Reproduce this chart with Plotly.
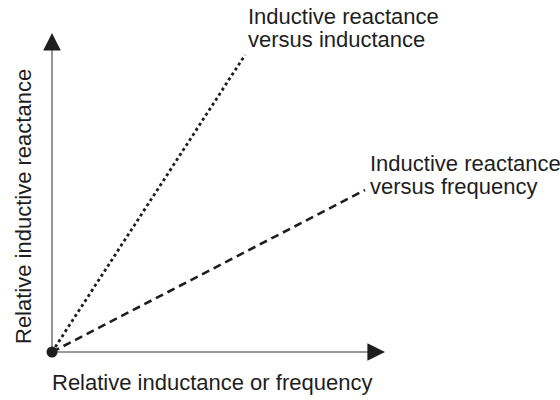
import plotly.graph_objects as go

# Relative units: origin at (0, 0)
axis_x_end = 3.33
axis_y_end = 3.19

# Inductive reactance versus inductance (dotted)
ind_x = [0.0, 1.93]
ind_y = [0.0, 2.97]

# Inductive reactance versus frequency (dashed)
freq_x = [0.0, 3.13]
freq_y = [0.0, 1.62]

label_ind = ["Inductive reactance", "versus inductance"]
label_freq = ["Inductive reactance", "versus frequency"]
x_title = "Relative inductance or frequency"
y_title = "Relative inductive reactance"

W, H = 560, 400
FONT = "Liberation Sans, Arial, sans-serif"
INK = "#1e1e1e"

fig = go.Figure()

# Axis lines
fig.add_trace(go.Scatter(x=[0, axis_x_end - 0.05], y=[0, 0], mode="lines",
                         line=dict(color="#7a7a7a", width=1.6), hoverinfo="skip"))
fig.add_trace(go.Scatter(x=[0, 0], y=[0, axis_y_end - 0.05], mode="lines",
                         line=dict(color="#7a7a7a", width=1.6), hoverinfo="skip"))

# Reactance lines
fig.add_trace(go.Scatter(x=ind_x, y=ind_y, mode="lines",
                         line=dict(color=INK, width=2.8, dash="dot"), hoverinfo="skip"))
fig.add_trace(go.Scatter(x=freq_x, y=freq_y, mode="lines",
                         line=dict(color=INK, width=2.6, dash="8px,5px"), hoverinfo="skip"))

# Origin dot
fig.add_trace(go.Scatter(x=[0], y=[0], mode="markers",
                         marker=dict(color=INK, size=11), hoverinfo="skip"))

annotations = []
# Arrowheads on axes
annotations.append(dict(x=axis_x_end, y=0, ax=axis_x_end - 0.15, ay=0,
                        xref="x", yref="y", axref="x", ayref="y",
                        showarrow=True, arrowhead=2, arrowsize=1.6, arrowwidth=2.2,
                        arrowcolor=INK, text=""))
annotations.append(dict(x=0, y=axis_y_end, ax=0, ay=axis_y_end - 0.15,
                        xref="x", yref="y", axref="x", ayref="y",
                        showarrow=True, arrowhead=2, arrowsize=1.6, arrowwidth=2.2,
                        arrowcolor=INK, text=""))


def px(x):
    return x / W


def py(y):
    return 1 - y / H


tf = dict(family=FONT, size=22, color=INK)


def text_line(txt, x, y, anchor="left", angle=0):
    return dict(x=px(x), y=py(y), xref="paper", yref="paper",
                xanchor=anchor, yanchor="middle", showarrow=False,
                text=txt, font=tf, textangle=angle)


annotations.append(text_line(label_ind[0], 246, 17))
annotations.append(text_line(label_ind[1], 246, 39.5))
annotations.append(text_line(label_freq[0], 368, 164))
annotations.append(text_line(label_freq[1], 368, 186.5))
annotations.append(text_line(x_title, 212, 382, anchor="center"))
annotations.append(text_line(y_title, 24, 207, anchor="center", angle=-90))

# Map relative units to the canvas: 100 px per unit, origin at (52, 352)
ox, oy, s = 52, 352, 100.0
fig.update_layout(
    width=W, height=H,
    margin=dict(l=0, r=0, t=0, b=0),
    paper_bgcolor="white", plot_bgcolor="white",
    showlegend=False,
    xaxis=dict(range=[-ox / s, (W - ox) / s], visible=False, fixedrange=True),
    yaxis=dict(range=[-(H - oy) / s, oy / s], visible=False, fixedrange=True),
    annotations=annotations,
)

fig.write_html("out.html")
